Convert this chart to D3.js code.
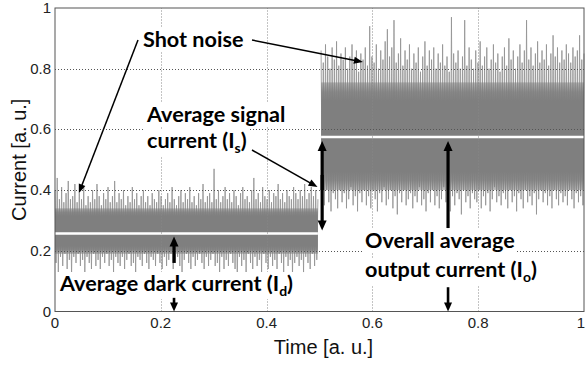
<!DOCTYPE html>
<html><head><meta charset="utf-8">
<script src="https://cdn.jsdelivr.net/npm/d3@7"></script>
<style>body{margin:0;background:#fff}</style>
</head><body>
<svg id="chart" width="586" height="367"></svg>
<script>
// Axis ticks
const xTicks = [0, 0.2, 0.4, 0.6, 0.8, 1];
const yTicks = [0, 0.2, 0.4, 0.6, 0.8, 1];
const xTickLabels = ["0", "0.2", "0.4", "0.6", "0.8", "1"];
const yTickLabels = ["0", "0.2", "0.4", "0.6", "0.8", "1"];

// Average levels
const darkMean = 0.257;    // average dark current I_d
const outputMean = 0.575;  // overall average output current I_o

// Time spans of the two segments (dark / illuminated)
const darkSpan = [0, 0.497];
const litSpan = [0.503, 1];

// Dense part of the noise band in each segment
const darkCore = [0.19, 0.34];
const litCore = [0.40, 0.755];

// Noise peaks (upper / lower excursions), dark segment
const darkHi = [
  0.40,0.44,0.37,0.41,0.36,0.39,0.43,0.37,0.38,0.42,
  0.36,0.39,0.37,0.41,0.35,0.38,0.36,0.40,0.37,0.42,
  0.38,0.35,0.39,0.37,0.41,0.36,0.38,0.43,0.36,0.39,
  0.37,0.40,0.35,0.38,0.36,0.41,0.37,0.39,0.35,0.38,
  0.40,0.36,0.38,0.35,0.39,0.37,0.36,0.40,0.38,0.35,
  0.37,0.39,0.36,0.41,0.37,0.35,0.38,0.40,0.36,0.39,
  0.37,0.41,0.36,0.38,0.35,0.39,0.37,0.42,0.36,0.38,
  0.39,0.36,0.47,0.37,0.40,0.36,0.38,0.41,0.37,0.39,
  0.36,0.40,0.38,0.35,0.39,0.41,0.37,0.38,0.36,0.40,
  0.44,0.37,0.39,0.36,0.41,0.38,0.37,0.40,0.36,0.39,
  0.38,0.42,0.37,0.39,0.36,0.40,0.38,0.37,0.41,0.39,
  0.37,0.40,0.38,0.42,0.37,0.39,0.41,0.38,0.40,0.37
];
const darkLo = [
  0.16,0.13,0.18,0.15,0.19,0.14,0.17,0.12,0.18,0.16,
  0.19,0.15,0.17,0.13,0.18,0.16,0.14,0.19,0.15,0.17,
  0.14,0.18,0.16,0.19,0.15,0.17,0.13,0.18,0.16,0.15,
  0.18,0.14,0.17,0.19,0.15,0.16,0.13,0.18,0.17,0.15,
  0.19,0.16,0.14,0.18,0.17,0.15,0.19,0.16,0.14,0.18,
  0.15,0.17,0.19,0.14,0.16,0.18,0.15,0.13,0.17,0.19,
  0.16,0.14,0.18,0.15,0.17,0.19,0.16,0.14,0.18,0.15,
  0.17,0.19,0.15,0.16,0.13,0.18,0.14,0.17,0.15,0.19,
  0.16,0.14,0.11,0.18,0.15,0.17,0.13,0.19,0.16,0.14,
  0.18,0.15,0.17,0.13,0.19,0.16,0.14,0.18,0.15,0.17,
  0.14,0.19,0.16,0.13,0.18,0.15,0.17,0.12,0.16,0.18,
  0.15,0.17,0.13,0.18,0.16,0.14,0.19,0.15,0.17,0.16
];

// Noise peaks, illuminated segment
const litHi = [
  0.86,0.82,0.88,0.84,0.80,0.87,0.83,0.89,0.81,0.85,
  0.83,0.87,0.80,0.84,0.88,0.82,0.86,0.79,0.85,0.83,
  0.87,0.81,0.94,0.84,0.82,0.88,0.80,0.86,0.83,0.89,
  0.93,0.84,0.87,0.96,0.82,0.85,0.90,0.81,0.86,0.83,
  0.88,0.80,0.85,0.82,0.87,0.79,0.84,0.89,0.81,0.86,
  0.83,0.87,0.80,0.85,0.82,0.88,0.81,0.84,0.79,0.97,
  0.85,0.82,0.86,0.80,0.84,0.96,0.81,0.87,0.83,0.80,
  0.86,0.82,0.89,0.81,0.84,0.87,0.80,0.83,0.88,0.82,
  0.85,0.79,0.84,0.87,0.81,0.90,0.83,0.86,0.80,0.84,
  0.88,0.82,0.86,0.96,0.83,0.87,0.81,0.85,0.89,0.82,
  0.86,0.83,0.88,0.81,0.85,0.91,0.84,0.87,0.82,0.86,
  0.83,0.88,0.85,0.82,0.87,0.84,0.86,0.91,0.83,0.85
];
const litLo = [
  0.38,0.35,0.40,0.36,0.33,0.39,0.37,0.34,0.40,0.36,
  0.39,0.34,0.37,0.41,0.35,0.38,0.33,0.39,0.36,0.40,
  0.35,0.38,0.34,0.40,0.37,0.33,0.39,0.36,0.41,0.35,
  0.37,0.40,0.34,0.38,0.32,0.39,0.36,0.40,0.35,0.37,
  0.39,0.34,0.38,0.36,0.41,0.35,0.37,0.33,0.39,0.36,
  0.40,0.35,0.38,0.34,0.37,0.41,0.36,0.39,0.33,0.38,
  0.35,0.39,0.37,0.32,0.40,0.36,0.38,0.34,0.39,0.37,
  0.36,0.40,0.34,0.38,0.35,0.39,0.33,0.37,0.41,0.36,
  0.38,0.35,0.39,0.37,0.34,0.40,0.36,0.38,0.33,0.39,
  0.37,0.34,0.40,0.36,0.38,0.35,0.39,0.32,0.37,0.40,
  0.36,0.39,0.35,0.38,0.34,0.40,0.37,0.35,0.39,0.36,
  0.38,0.35,0.40,0.37,0.34,0.39,0.36,0.38,0.35,0.37
];

const svg = d3.select("#chart");
const x = d3.scaleLinear().domain([0, 1]).range([55, 584]);
const y = d3.scaleLinear().domain([0, 1]).range([311.5, 8]);

const tickFont = "'Liberation Sans', Arial, sans-serif";
const noteFont = "Lato, 'Open Sans', sans-serif";

// Soft-edged fill for the dense part of the noise
const defs = svg.append("defs");
const grad = defs.append("linearGradient").attr("id", "core")
  .attr("x1", 0).attr("y1", 0).attr("x2", 0).attr("y2", 1);
[[0, 0.5], [0.09, 0.9], [0.17, 1], [0.83, 1], [0.91, 0.9], [1, 0.5]].forEach(([o, a]) =>
  grad.append("stop").attr("offset", o).attr("stop-color", "#7f7f7f").attr("stop-opacity", a));

// Noise band of one segment: zig-zag trace between peaks, dense core, mean level
function drawSegment(span, hi, lo, core, mean) {
  const t = d3.scaleLinear().domain([0, hi.length - 1]).range(span);
  const half = (span[1] - span[0]) / (hi.length - 1) / 2;
  const pts = [];
  hi.forEach((h, i) => {
    pts.push([t(i), h]);
    if (i < hi.length - 1) pts.push([t(i) + half, lo[i]]);
  });
  const g = svg.append("g");
  g.append("path")
    .attr("d", d3.line().x(d => x(d[0])).y(d => y(d[1]))(pts))
    .attr("fill", "none").attr("stroke", "#949494").attr("stroke-width", 0.85);
  g.append("rect")
    .attr("x", x(span[0])).attr("width", x(span[1]) - x(span[0]))
    .attr("y", y(core[1])).attr("height", y(core[0]) - y(core[1]))
    .attr("fill", "url(#core)");
  g.append("line")
    .attr("x1", x(span[0])).attr("x2", x(span[1]))
    .attr("y1", y(mean)).attr("y2", y(mean))
    .attr("stroke", "#fff").attr("stroke-width", 2.6);
}

drawSegment(darkSpan, darkHi, darkLo, darkCore, darkMean);
drawSegment(litSpan, litHi, litLo, litCore, outputMean);

// Dotted grid
const grid = svg.append("g").attr("stroke", "#555").attr("stroke-width", 1)
  .attr("stroke-dasharray", "1,2");
grid.selectAll("line.gx").data(xTicks.slice(1, -1)).join("line")
  .attr("x1", d => Math.round(x(d)) + 0.5).attr("x2", d => Math.round(x(d)) + 0.5)
  .attr("y1", y(0)).attr("y2", y(1)).attr("stroke", "#888");
grid.selectAll("line.gy").data(yTicks.slice(1, -1)).join("line")
  .attr("y1", d => Math.round(y(d)) + 0.5).attr("y2", d => Math.round(y(d)) + 0.5)
  .attr("x1", x(0)).attr("x2", x(1));

// Axes box
svg.append("rect")
  .attr("x", x(0)).attr("y", y(1))
  .attr("width", x(1) - x(0)).attr("height", y(0) - y(1))
  .attr("fill", "none").attr("stroke", "#555").attr("stroke-width", 1);

// Tick labels
svg.selectAll("text.xt").data(xTicks).join("text")
  .attr("x", d => Math.min(x(d), 581)).attr("y", 328)
  .attr("text-anchor", "middle")
  .style("font-family", tickFont).style("font-size", "15px").attr("fill", "#222")
  .text((d, i) => xTickLabels[i]);
svg.selectAll("text.yt").data(yTicks).join("text")
  .attr("x", 51).attr("y", d => y(d) + 5)
  .attr("text-anchor", "end")
  .style("font-family", tickFont).style("font-size", "15px").attr("fill", "#222")
  .text((d, i) => yTickLabels[i]);

// Axis titles
svg.append("text")
  .attr("x", (x(0) + x(1)) / 2 + 4).attr("y", 354)
  .attr("text-anchor", "middle")
  .style("font-family", tickFont).style("font-size", "20px").attr("fill", "#111")
  .text("Time [a. u.]");
svg.append("text")
  .attr("transform", `translate(26,${(y(0) + y(1)) / 2}) rotate(-90)`)
  .attr("text-anchor", "middle")
  .style("font-family", tickFont).style("font-size", "20px").attr("fill", "#111")
  .text("Current [a. u.]");

// Annotation helpers
function arrow(x1, y1, x2, y2, w, hl, hw) {
  const dx = x2 - x1, dy = y2 - y1, L = Math.hypot(dx, dy);
  const ux = dx / L, uy = dy / L;
  const bx = x2 - ux * hl, by = y2 - uy * hl;
  svg.append("line")
    .attr("x1", x1).attr("y1", y1).attr("x2", bx + ux).attr("y2", by + uy)
    .attr("stroke", "#000").attr("stroke-width", w);
  svg.append("path")
    .attr("d", `M${x2},${y2}L${bx - uy * hw / 2},${by + ux * hw / 2}L${bx + uy * hw / 2},${by - ux * hw / 2}Z`)
    .attr("fill", "#000");
}

function note(px, py, main, sub, tail, boxed) {
  const g = svg.append("g");
  const bg = g.append("rect").attr("fill", "#fff");
  const t = g.append("text").attr("x", px).attr("y", py)
    .style("font-family", noteFont).style("font-weight", "bold")
    .style("font-size", "21.6px").attr("fill", "#000");
  t.append("tspan").text(main);
  if (sub) {
    t.append("tspan").attr("dy", 5).style("font-size", "14px").text(sub);
    t.append("tspan").attr("dy", -5).text(tail);
  }
  const b = t.node().getBBox();
  if (boxed) bg.attr("x", b.x - 2).attr("y", b.y + 2).attr("width", b.width + 4).attr("height", b.height - 2);
  else bg.remove();
}

// Shot noise
note(143, 47, "Shot noise", null, null, true);
arrow(138, 40, x(0.045), y(0.39), 1.5, 9, 7);
arrow(252, 40, x(0.582), y(0.822), 1.5, 9, 7);

// Average signal current
note(147, 122, "Average signal", null, null, true);
note(147, 148, "current (I", "s", ")", true);
arrow(252, 150, x(0.5) - 2, y(0.41), 1.5, 9, 7);
arrow(x(0.505), y(0.40), x(0.505), y(outputMean) + 4, 3.2, 10, 9);
arrow(x(0.505), y(0.45), x(0.505), y(darkMean) - 3, 3.2, 10, 9);

// Average dark current
note(60, 291, "Average dark current (I", "d", ")", true);
arrow(x(0.225), y(0.16), x(0.225), y(darkMean) + 3, 3.2, 10, 9);
arrow(x(0.225), y(0.045), x(0.225), y(0), 2.6, 9, 8);

// Overall average output current
note(365, 248, "Overall average", null, null, true);
note(365, 277, "output current (I", "o", ")", true);
arrow(x(0.743), y(0.275), x(0.743), y(outputMean) + 4, 3.2, 10, 9);
arrow(x(0.743), y(0.08), x(0.743), y(0), 2.6, 9, 8);
</script>
</body></html>
